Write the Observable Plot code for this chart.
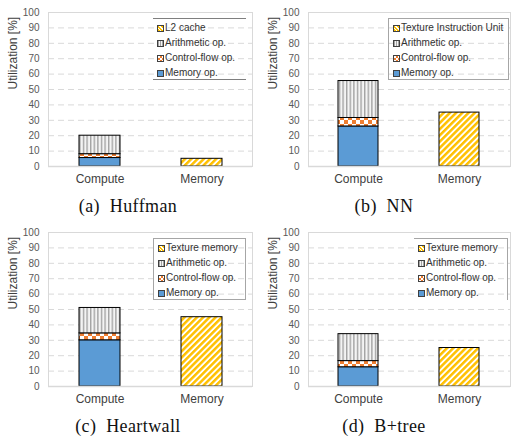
<!DOCTYPE html>
<html>
<head>
<meta charset="utf-8">
<script src="https://cdn.jsdelivr.net/npm/d3@7"></script>
<script src="https://cdn.jsdelivr.net/npm/@observablehq/plot@0.6"></script>
<style>
  body { margin: 0; background: #fff; }
  #root { position: relative; width: 512px; height: 440px; overflow: hidden; }
  .panel { position: absolute; width: 256px; height: 220px; }
  .panel svg.plot { position: absolute; left: 0; top: 0; }
  .legend { position: absolute; top: 18px; height: 62px; font: 10px "Liberation Sans", Arial, sans-serif; color: #333; box-sizing: border-box; }
  .item { position: absolute; left: 4px; height: 15px; line-height: 15px; white-space: nowrap; }
  .sw { display: inline-block; width: 5px; height: 5px; border: 1px solid #404040; margin-right: 1px; vertical-align: -0.5px; }
  .caption { position: absolute; left: 0; width: 256px; top: 196px; text-align: center; font: 18px "Liberation Serif", serif; line-height: 20px; color: #111; white-space: pre; letter-spacing: 0.4px; }
</style>
</head>
<body>
<svg width="0" height="0" style="position:absolute">
  <defs>
    <pattern id="p-arith" width="3.6" height="4" patternUnits="userSpaceOnUse">
      <rect width="3.6" height="4" fill="#f4f4f4"></rect>
      <rect width="1.4" height="4" fill="#a3a3a3"></rect>
    </pattern>
    <pattern id="p-ctrl" width="8" height="8" patternUnits="userSpaceOnUse">
      <rect width="8" height="8" fill="#ffffff"></rect>
      <rect width="4" height="4" fill="#ED7D31"></rect>
      <rect x="4" y="4" width="4" height="4" fill="#ED7D31"></rect>
    </pattern>
    <pattern id="p-unit" width="4.4" height="4.4" patternUnits="userSpaceOnUse" patternTransform="rotate(45)">
      <rect width="4.4" height="4.4" fill="#ffffff"></rect>
      <rect width="2.5" height="4.4" fill="#FFC000"></rect>
    </pattern>
  </defs>
</svg>
<div id="root"></div>
<script>
// ---- data ----
const categories = ["Compute", "Memory"];
const captions = ["(a)  Huffman", "(b)  NN", "(c)  Heartwall", "(d)  B+tree"];
const memoryOp    = [5.5, 26, 30, 12.5];
const controlFlow = [2.5, 5.5, 4.5, 4];
const arithmetic  = [12, 24, 16.5, 17.5];
const memoryUnit  = [5, 35, 45, 25];
const memoryUnitNames = ["L2 cache", "Texture Instruction Unit", "Texture memory", "Texture memory"];
const seriesKeys = ["mem", "ctrl", "arith", "unit"];
const seriesLabels = ["Memory op.", "Control-flow op.", "Arithmetic op."];
const yTicks = [0, 10, 20, 30, 40, 50, 60, 70, 80, 90, 100];

// ---- layout ----
const panelPos = [[0, 0], [256, 0], [0, 220], [256, 220]];
const legendStyle = [
  {left: 153, width: 93, border: "border-top:1px solid #7f7f7f;border-bottom:1px solid #7f7f7f;"},
  {left: 132, width: 121, border: "border:1px solid #a6a6a6;"},
  {left: 153, width: 93, border: "border:1px solid #a6a6a6;"},
  {left: 158, width: 94, border: "border-top:1px solid #a6a6a6;border-right:1px solid #a6a6a6;"}
];
const swatchCss = {
  unit: "background:repeating-linear-gradient(45deg,#FFC000 0 1.5px,#fff 1.5px 2.5px);",
  arith: "background:repeating-linear-gradient(90deg,#a3a3a3 0 1px,#f4f4f4 1px 2px);",
  ctrl: "background:conic-gradient(#ED7D31 0 25%,#fff 0 50%,#ED7D31 0 75%,#fff 0);background-size:4px 4px;",
  mem: "background:#5B9BD5;"
};

const root = document.getElementById("root");

for (let i = 0; i < 4; i++) {
  const isLeft = i % 2 === 0;
  const rows = [
    {cat: categories[0], s: "mem", v: memoryOp[i]},
    {cat: categories[0], s: "ctrl", v: controlFlow[i]},
    {cat: categories[0], s: "arith", v: arithmetic[i]},
    {cat: categories[1], s: "unit", v: memoryUnit[i]}
  ];
  const chart = Plot.plot({
    width: 256,
    height: 196,
    marginLeft: isLeft ? 48 : 52,
    marginRight: isLeft ? 4 : 2,
    marginTop: 12,
    marginBottom: 30,
    style: {fontFamily: "'Liberation Sans', Arial, sans-serif", background: "transparent", overflow: "visible"},
    x: {domain: categories, paddingInner: 0.6, paddingOuter: 0.3, label: null},
    y: {domain: [0, 100], label: null},
    color: {type: "ordinal", domain: seriesKeys, range: ["#5B9BD5", "url(#p-ctrl)", "url(#p-arith)", "url(#p-unit)"]},
    marks: [
      Plot.frame({stroke: "#d9d9d9"}),
      Plot.gridY(yTicks.filter(t => t > 0 && t < 100), {stroke: "#d9d9d9", strokeOpacity: 1, strokeDasharray: "6,4"}),
      Plot.barY(rows, Plot.stackY({x: "cat", y: "v", fill: "s", stroke: "#000", strokeWidth: 1})),
      Plot.ruleY([0], {stroke: "#d9d9d9", strokeWidth: 1.5}),
      Plot.axisY(yTicks, {tickSize: 0, tickPadding: 9, fontSize: 10, fill: "#595959", label: null}),
      Plot.axisX({tickSize: 0, tickPadding: 8, fontSize: 12, fill: "#404040", label: null}),
      Plot.text(["Utilization [%]"], {frameAnchor: "left", rotate: -90, dx: -35, fontSize: 12, fill: "#404040"})
    ]
  });
  chart.classList.add("plot");

  const panel = document.createElement("div");
  panel.className = "panel";
  panel.style.left = panelPos[i][0] + "px";
  panel.style.top = panelPos[i][1] + "px";
  panel.appendChild(chart);

  // legend
  const lg = document.createElement("div");
  lg.className = "legend";
  lg.style.cssText += `left:${legendStyle[i].left}px;width:${legendStyle[i].width}px;${legendStyle[i].border}`;
  const names = [memoryUnitNames[i], seriesLabels[2], seriesLabels[1], seriesLabels[0]];
  const keys = ["unit", "arith", "ctrl", "mem"];
  names.forEach((n, k) => {
    const it = document.createElement("div");
    it.className = "item";
    it.style.top = (1 + k * 15) + "px";
    it.innerHTML = `<span class="sw" style="${swatchCss[keys[k]]}"></span>`;
    it.appendChild(document.createTextNode(n));
    lg.appendChild(it);
  });
  panel.appendChild(lg);

  const cap = document.createElement("div");
  cap.className = "caption";
  cap.textContent = captions[i];
  panel.appendChild(cap);

  root.appendChild(panel);
}
</script>
</body>
</html>
